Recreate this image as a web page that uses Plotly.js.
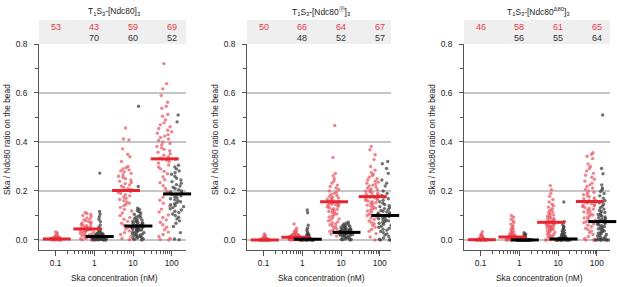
<!DOCTYPE html>
<html><head><meta charset="utf-8">
<script src="https://cdn.plot.ly/plotly-3.0.1.min.js"></script>
<style>html,body{margin:0;padding:0;background:#fff}#chart{width:617px;height:287px}</style>
</head><body><div id="chart"></div>
<script>
// ---------- data ----------
const concentrations = [0.1, 1, 10, 100];
const tickLabels = ['0.1', '1', '10', '100'];
const panelTitles = [
  'T<sub>1</sub>S<sub>3</sub>-[Ndc80]<sub>3</sub>',
  'T<sub>1</sub>S<sub>3</sub>-[Ndc80<sup>\u24C5</sup>]<sub>3</sub>',
  'T<sub>1</sub>S<sub>3</sub>-[Ndc80<sup>\u039480</sup>]<sub>3</sub>'
];
const xTitle = 'Ska concentration (nM)';
const yTitle = 'Ska / Ndc80 ratio on the bead';

// Panel 1: T1S3-[Ndc80]3
const p1_red_0p1 = [0.000,0.001,0.002,0.003,0.004,0.005,0.006,0.007,0.008,0.009,0.000,0.002,0.003,0.004,0.005,0.006,0.007,0.008,0.010,0.012,0.001,0.002,0.003,0.004,0.005,0.006,0.007,0.009,0.011,0.014,0.000,0.001,0.003,0.004,0.005,0.006,0.008,0.010,0.013,0.016,0.002,0.003,0.004,0.005,0.007,0.002,0.001,0.004,0.006,0.019,0.024,0.029,0.033];
const p1_red_1 = [0.000,0.001,0.003,0.005,0.007,0.009,0.011,0.013,0.015,0.018,0.020,0.022,0.025,0.027,0.030,0.032,0.034,0.036,0.038,0.040,0.042,0.044,0.046,0.048,0.050,0.052,0.055,0.058,0.060,0.063,0.066,0.069,0.072,0.075,0.078,0.082,0.086,0.090,0.095,0.100,0.104,0.108,0.112];
const p1_red_10 = [0.457,0.412,0.408,0.372,0.350,0.340,0.320,0.300,0.295,0.290,0.286,0.282,0.278,0.272,0.266,0.260,0.255,0.250,0.245,0.240,0.235,0.230,0.225,0.220,0.215,0.210,0.206,0.202,0.198,0.194,0.190,0.185,0.180,0.175,0.170,0.165,0.160,0.155,0.150,0.145,0.140,0.133,0.125,0.118,0.110,0.100,0.092,0.085,0.076,0.068,0.060,0.052,0.045,0.037,0.030,0.022,0.014,0.006,0.001];
const p1_red_100 = [0.720,0.638,0.617,0.590,0.562,0.546,0.538,0.512,0.505,0.490,0.478,0.470,0.462,0.455,0.448,0.442,0.436,0.430,0.424,0.418,0.412,0.406,0.400,0.394,0.388,0.382,0.376,0.370,0.364,0.358,0.352,0.346,0.340,0.334,0.330,0.326,0.320,0.314,0.306,0.298,0.290,0.280,0.270,0.258,0.246,0.234,0.222,0.210,0.198,0.186,0.174,0.162,0.150,0.138,0.126,0.114,0.102,0.092,0.082,0.072,0.062,0.052,0.042,0.032,0.022,0.014,0.006,0.002,0.000];
const p1_blk_1 = [0.273,0.116,0.106,0.095,0.085,0.075,0.061,0.052,0.045,0.040,0.036,0.032,0.030,0.028,0.026,0.025,0.024,0.022,0.021,0.020,0.019,0.018,0.017,0.016,0.015,0.015,0.014,0.014,0.013,0.013,0.012,0.012,0.011,0.011,0.010,0.010,0.010,0.009,0.009,0.008,0.008,0.008,0.007,0.007,0.007,0.006,0.006,0.006,0.005,0.005,0.005,0.004,0.004,0.004,0.003,0.003,0.003,0.002,0.002,0.002,0.001,0.001,0.001,0.000,0.000,0.000,0.018,0.016,0.012,0.009];
const p1_blk_10 = [0.546,0.218,0.130,0.125,0.120,0.115,0.110,0.105,0.100,0.097,0.094,0.090,0.087,0.084,0.081,0.078,0.076,0.074,0.072,0.070,0.068,0.066,0.064,0.062,0.060,0.058,0.057,0.056,0.055,0.054,0.053,0.052,0.050,0.049,0.048,0.046,0.045,0.043,0.042,0.040,0.038,0.036,0.034,0.032,0.030,0.028,0.026,0.024,0.022,0.020,0.018,0.016,0.014,0.012,0.010,0.008,0.006,0.004,0.002,0.000];
const p1_blk_100 = [0.510,0.482,0.330,0.305,0.298,0.290,0.282,0.275,0.268,0.260,0.252,0.245,0.238,0.232,0.226,0.220,0.215,0.210,0.205,0.200,0.196,0.192,0.189,0.186,0.183,0.180,0.176,0.172,0.168,0.164,0.160,0.156,0.152,0.148,0.144,0.140,0.136,0.132,0.127,0.122,0.117,0.112,0.106,0.100,0.093,0.086,0.078,0.068,0.055,0.030,0.004,0.001];
const p1_red_mean = [0.004, 0.045, 0.202, 0.331];
const p1_blk_mean = [null, 0.014, 0.057, 0.188];
const p1_red_n = [53, 43, 59, 69];
const p1_blk_n = [null, 70, 60, 52];

// Panel 2: T1S3-[Ndc80(P)]3
const p2_red_0p1 = [0.000,0.000,0.001,0.001,0.002,0.002,0.003,0.003,0.004,0.004,0.000,0.001,0.001,0.002,0.002,0.003,0.003,0.004,0.005,0.005,0.000,0.000,0.001,0.001,0.002,0.002,0.003,0.004,0.005,0.006,0.000,0.001,0.001,0.002,0.002,0.003,0.004,0.006,0.007,0.008,0.000,0.001,0.002,0.003,0.009,0.010,0.012,0.015,0.019,0.025];
const p2_red_1 = [0.065,0.048,0.040,0.036,0.033,0.030,0.028,0.026,0.024,0.022,0.021,0.020,0.019,0.018,0.017,0.016,0.016,0.015,0.015,0.014,0.014,0.013,0.013,0.012,0.012,0.012,0.011,0.011,0.011,0.010,0.010,0.010,0.009,0.009,0.009,0.008,0.008,0.008,0.007,0.007,0.007,0.006,0.006,0.006,0.005,0.005,0.005,0.004,0.004,0.004,0.003,0.003,0.003,0.002,0.002,0.002,0.001,0.001,0.001,0.000,0.000,0.000,0.018,0.014,0.010,0.006];
const p2_red_10 = [0.467,0.337,0.272,0.262,0.250,0.240,0.232,0.224,0.218,0.212,0.206,0.200,0.195,0.190,0.186,0.182,0.178,0.175,0.172,0.169,0.166,0.163,0.160,0.158,0.156,0.154,0.152,0.150,0.148,0.146,0.144,0.142,0.140,0.137,0.134,0.131,0.128,0.125,0.122,0.119,0.116,0.113,0.110,0.106,0.102,0.098,0.094,0.090,0.086,0.082,0.078,0.074,0.070,0.066,0.062,0.058,0.054,0.050,0.045,0.040,0.035,0.030,0.024,0.016];
const p2_red_100 = [0.382,0.368,0.348,0.328,0.300,0.285,0.275,0.268,0.262,0.256,0.250,0.245,0.240,0.236,0.232,0.228,0.224,0.220,0.216,0.212,0.208,0.205,0.202,0.199,0.196,0.193,0.190,0.187,0.184,0.181,0.178,0.176,0.174,0.172,0.170,0.168,0.165,0.162,0.159,0.156,0.153,0.150,0.146,0.142,0.138,0.134,0.130,0.126,0.122,0.118,0.114,0.110,0.105,0.100,0.095,0.090,0.084,0.078,0.072,0.066,0.060,0.052,0.044,0.036,0.026,0.012,0.000];
const p2_blk_1 = [0.122,0.111,0.060,0.048,0.040,0.032,0.027,0.023,0.020,0.017,0.015,0.013,0.011,0.010,0.009,0.008,0.007,0.006,0.006,0.005,0.005,0.004,0.004,0.004,0.003,0.003,0.003,0.003,0.002,0.002,0.002,0.002,0.001,0.001,0.001,0.001,0.001,0.000,0.000,0.000,0.000,0.000,0.000,0.000,0.002,0.004,0.006,0.008];
const p2_blk_10 = [0.072,0.068,0.065,0.062,0.060,0.058,0.056,0.054,0.052,0.050,0.048,0.046,0.045,0.044,0.042,0.041,0.040,0.039,0.038,0.037,0.036,0.035,0.034,0.033,0.032,0.031,0.030,0.029,0.028,0.027,0.026,0.025,0.024,0.023,0.022,0.021,0.020,0.019,0.018,0.016,0.014,0.012,0.010,0.008,0.006,0.004,0.003,0.002,0.001,0.000,0.030,0.028];
const p2_blk_100 = [0.320,0.311,0.292,0.272,0.245,0.232,0.220,0.200,0.190,0.182,0.175,0.168,0.162,0.156,0.150,0.145,0.140,0.136,0.132,0.128,0.124,0.120,0.117,0.114,0.111,0.108,0.105,0.102,0.100,0.098,0.096,0.093,0.090,0.087,0.084,0.081,0.078,0.075,0.072,0.068,0.064,0.060,0.056,0.052,0.048,0.044,0.040,0.035,0.030,0.025,0.020,0.014,0.008,0.003,0.000,0.000,0.001];
const p2_red_mean = [0.000, 0.011, 0.156, 0.177];
const p2_blk_mean = [null, 0.003, 0.031, 0.100];
const p2_red_n = [50, 66, 64, 67];
const p2_blk_n = [null, 48, 52, 57];

// Panel 3: T1S3-[Ndc80(Δ80)]3
const p3_red_0p1 = [0.000,0.000,0.000,0.001,0.001,0.001,0.002,0.002,0.002,0.003,0.000,0.000,0.001,0.001,0.002,0.002,0.003,0.003,0.004,0.004,0.000,0.001,0.001,0.002,0.003,0.004,0.005,0.005,0.006,0.006,0.000,0.001,0.002,0.003,0.004,0.007,0.008,0.009,0.010,0.012,0.014,0.016,0.018,0.020,0.025,0.034];
const p3_red_1 = [0.100,0.093,0.085,0.078,0.071,0.064,0.058,0.052,0.047,0.043,0.039,0.035,0.032,0.029,0.026,0.024,0.022,0.020,0.018,0.017,0.016,0.015,0.014,0.013,0.012,0.012,0.011,0.011,0.010,0.010,0.009,0.009,0.008,0.008,0.007,0.007,0.006,0.006,0.005,0.005,0.004,0.004,0.003,0.003,0.002,0.002,0.001,0.001,0.000,0.000,0.000,0.000,0.000,0.019,0.015,0.010,0.006,0.003];
const p3_red_10 = [0.222,0.205,0.190,0.178,0.165,0.155,0.146,0.140,0.134,0.128,0.123,0.118,0.114,0.110,0.106,0.102,0.099,0.096,0.093,0.090,0.087,0.084,0.081,0.078,0.076,0.074,0.072,0.070,0.068,0.066,0.064,0.062,0.060,0.058,0.056,0.054,0.052,0.050,0.048,0.046,0.044,0.042,0.040,0.037,0.034,0.031,0.028,0.025,0.022,0.019,0.016,0.013,0.010,0.007,0.004,0.002,0.000,0.000,0.000,0.001,0.000];
const p3_red_100 = [0.356,0.350,0.342,0.332,0.310,0.300,0.292,0.282,0.272,0.264,0.256,0.248,0.240,0.232,0.225,0.218,0.212,0.206,0.200,0.195,0.190,0.185,0.180,0.176,0.172,0.168,0.164,0.160,0.157,0.154,0.151,0.148,0.145,0.142,0.139,0.136,0.133,0.130,0.126,0.122,0.118,0.114,0.110,0.106,0.102,0.098,0.094,0.090,0.085,0.080,0.075,0.070,0.065,0.060,0.054,0.048,0.042,0.036,0.030,0.022,0.014,0.006,0.000,0.000,0.000];
const p3_blk_1 = [0.030,0.025,0.022,0.020,0.018,0.015,0.012,0.010,0.008,0.006,0.005,0.004,0.003,0.003,0.002,0.002,0.002,0.001,0.001,0.001,0.001,0.001,0.000,0.000,0.000,0.000,0.000,0.000,0.000,0.000,0.000,0.000,0.000,0.000,0.000,0.000,0.000,0.000,0.000,0.000,0.000,0.000,0.001,0.001,0.002,0.000,0.000,0.000,0.001,0.000,0.000,0.000,0.000,0.001,0.000,0.000];
const p3_blk_10 = [0.155,0.075,0.062,0.055,0.050,0.045,0.040,0.036,0.032,0.028,0.025,0.022,0.020,0.018,0.016,0.014,0.012,0.011,0.010,0.009,0.008,0.007,0.006,0.006,0.005,0.005,0.004,0.004,0.004,0.003,0.003,0.003,0.002,0.002,0.002,0.002,0.001,0.001,0.001,0.001,0.001,0.000,0.000,0.000,0.000,0.000,0.000,0.000,0.000,0.000,0.000,0.003,0.005,0.007,0.009];
const p3_blk_100 = [0.510,0.292,0.270,0.225,0.212,0.205,0.198,0.190,0.180,0.170,0.160,0.152,0.145,0.138,0.132,0.126,0.121,0.116,0.112,0.108,0.104,0.100,0.097,0.094,0.091,0.088,0.085,0.082,0.079,0.076,0.074,0.072,0.070,0.067,0.064,0.061,0.058,0.055,0.052,0.049,0.046,0.043,0.040,0.037,0.034,0.031,0.028,0.025,0.022,0.019,0.016,0.013,0.010,0.007,0.004,0.002,0.000,0.000,0.000,0.000,0.000,0.000,0.001,0.000];
const p3_red_mean = [0.001, 0.012, 0.072, 0.157];
const p3_blk_mean = [null, 0.000, 0.004, 0.075];
const p3_red_n = [46, 58, 61, 65];
const p3_blk_n = [null, 56, 55, 64];

// ---------- styling / assembly ----------
const FONT = '"Liberation Sans", Arial, Helvetica, sans-serif';
const FS = 8.4;
const RED_PT = 'rgba(232,88,100,0.72)';
const BLK_PT = 'rgba(60,60,60,0.72)';
const RED_LINE = '#e8252f';
const BLK_LINE = '#000000';
const RED_TXT = '#e23a4c';
const BLK_TXT = '#333333';

const panels = [
  {red: [p1_red_0p1, p1_red_1, p1_red_10, p1_red_100], blk: [null, p1_blk_1, p1_blk_10, p1_blk_100],
   redMean: p1_red_mean, blkMean: p1_blk_mean, redN: p1_red_n, blkN: p1_blk_n,
   xdom: [39, 186], xr: [-1.43, 2.37]},
  {red: [p2_red_0p1, p2_red_1, p2_red_10, p2_red_100], blk: [null, p2_blk_1, p2_blk_10, p2_blk_100],
   redMean: p2_red_mean, blkMean: p2_blk_mean, redN: p2_red_n, blkN: p2_blk_n,
   xdom: [247, 391], xr: [-1.43, 2.29]},
  {red: [p3_red_0p1, p3_red_1, p3_red_10, p3_red_100], blk: [null, p3_blk_1, p3_blk_10, p3_blk_100],
   redMean: p3_red_mean, blkMean: p3_blk_mean, redN: p3_red_n, blkN: p3_blk_n,
   xdom: [464, 610], xr: [-1.43, 2.34]}
];

const W = 617, H = 287;
const py = v => 1 - v / H;
const yDom = [py(250), py(44)];
const redOffset = c => (c === 0.1 ? 0.03 : -0.18);
const blkOffset = 0.14;
const groupWidth = 0.42;

const minorVals = [];
[0.1, 1, 10].forEach(d => { for (let k = 2; k <= 9; k++) minorVals.push(Math.log10(k * d)); });

const traces = [];
const layout = {
  width: W, height: H,
  margin: {l: 0, r: 0, t: 0, b: 0},
  paper_bgcolor: '#fff', plot_bgcolor: 'rgba(0,0,0,0)',
  showlegend: false, hovermode: false,
  font: {family: FONT, size: FS, color: '#222'},
  shapes: [], annotations: []
};

panels.forEach((p, i) => {
  const sfx = i === 0 ? '' : String(i + 1);
  const xa = 'x' + sfx, ya = 'y' + sfx;

  const boxStyle = (vals, pos, color) => ({
    type: 'box', y: vals, x0: pos, xaxis: xa, yaxis: ya,
    boxpoints: 'all', jitter: 1, pointpos: 0, width: groupWidth,
    fillcolor: 'rgba(0,0,0,0)', line: {color: 'rgba(0,0,0,0)', width: 0},
    whiskerwidth: 0, marker: {color: color, size: 3.4, line: {width: 0}},
    hoverinfo: 'skip', showlegend: false
  });

  concentrations.forEach((c, j) => {
    const lx = Math.log10(c);
    if (p.red[j]) traces.push(boxStyle(p.red[j], lx + redOffset(c), RED_PT));
    if (p.blk[j]) traces.push(boxStyle(p.blk[j], lx + blkOffset, BLK_PT));
  });

  // mean bars
  const rx = [], ry = [], bx = [], by = [];
  concentrations.forEach((c, j) => {
    const lx = Math.log10(c);
    if (p.redMean[j] !== null) { rx.push(lx + redOffset(c)); ry.push(p.redMean[j]); }
    if (p.blkMean[j] !== null) { bx.push(lx + blkOffset); by.push(p.blkMean[j]); }
  });
  traces.push({type: 'scatter', mode: 'markers', x: rx, y: ry, xaxis: xa, yaxis: ya, cliponaxis: false,
    marker: {symbol: 'line-ew', size: 20, line: {color: RED_LINE, width: 3}}, hoverinfo: 'skip'});
  traces.push({type: 'scatter', mode: 'markers', x: bx, y: by, xaxis: xa, yaxis: ya, cliponaxis: false,
    marker: {symbol: 'line-ew', size: 20, line: {color: BLK_LINE, width: 3}}, hoverinfo: 'skip'});

  layout['xaxis' + sfx] = {
    domain: [p.xdom[0] / W, p.xdom[1] / W], range: p.xr, anchor: ya,
    tickmode: 'array', tickvals: concentrations.map(Math.log10), ticktext: tickLabels,
    ticks: 'outside', ticklen: 5, tickcolor: '#555', tickwidth: 1,
    showline: true, linecolor: '#555', linewidth: 1,
    showgrid: false, zeroline: false, fixedrange: true,
    tickfont: {family: FONT, size: FS, color: '#222'},
    minor: {tickmode: 'array', tickvals: minorVals, ticks: 'outside', ticklen: 3, tickcolor: '#555', showgrid: false}
  };
  layout['yaxis' + sfx] = {
    domain: yDom, range: [-0.041, 0.8], anchor: xa,
    tickmode: 'array', tickvals: [0, 0.2, 0.4, 0.6, 0.8], ticktext: ['0.0', '0.2', '0.4', '0.6', '0.8'],
    ticks: 'outside', ticklen: 4, tickcolor: '#555', ticklabelstandoff: 5,
    showline: true, linecolor: '#555', linewidth: 1,
    showgrid: true, gridcolor: '#c6c6c6', gridwidth: 1.3, zeroline: false, fixedrange: true,
    tickfont: {family: FONT, size: FS, color: '#222'},
    minor: {tickmode: 'array', tickvals: [0.1, 0.3, 0.5, 0.7], ticks: 'outside', ticklen: 3, tickcolor: '#555', showgrid: false}
  };

  // header box
  layout.shapes.push({type: 'rect', xref: xa + ' domain', yref: 'paper', x0: 0, x1: 1, y0: py(44), y1: py(20),
    fillcolor: '#efefef', line: {width: 0}, layer: 'below'});

  // header counts
  concentrations.forEach((c, j) => {
    const lx = Math.log10(c);
    if (p.redN[j] !== null) layout.annotations.push({xref: xa, yref: 'paper', x: lx, y: py(26.5), text: String(p.redN[j]),
      showarrow: false, xanchor: 'center', yanchor: 'middle', font: {family: FONT, size: 9, color: RED_TXT}});
    if (p.blkN[j] !== null) layout.annotations.push({xref: xa, yref: 'paper', x: lx, y: py(37.5), text: String(p.blkN[j]),
      showarrow: false, xanchor: 'center', yanchor: 'middle', font: {family: FONT, size: 9, color: BLK_TXT}});
  });

  const cx = (p.xdom[0] + p.xdom[1]) / 2;
  // panel title
  layout.annotations.push({xref: 'paper', yref: 'paper', x: (cx + 1.5) / W, y: py(11), text: panelTitles[i],
    showarrow: false, xanchor: 'center', yanchor: 'middle', font: {family: FONT, size: FS, color: '#222'}});
  // x title
  layout.annotations.push({xref: 'paper', yref: 'paper', x: (cx + 2) / W, y: py(277.5), text: xTitle,
    showarrow: false, xanchor: 'center', yanchor: 'middle', font: {family: FONT, size: FS, color: '#222'}});
  // y title
  layout.annotations.push({xref: 'paper', yref: 'paper', x: (p.xdom[0] - 32) / W, y: py(140), text: yTitle, textangle: -90,
    showarrow: false, xanchor: 'center', yanchor: 'middle', font: {family: FONT, size: FS, color: '#222'}});
});

Plotly.newPlot('chart', traces, layout, {staticPlot: true, displayModeBar: false});
</script>
</body></html>
